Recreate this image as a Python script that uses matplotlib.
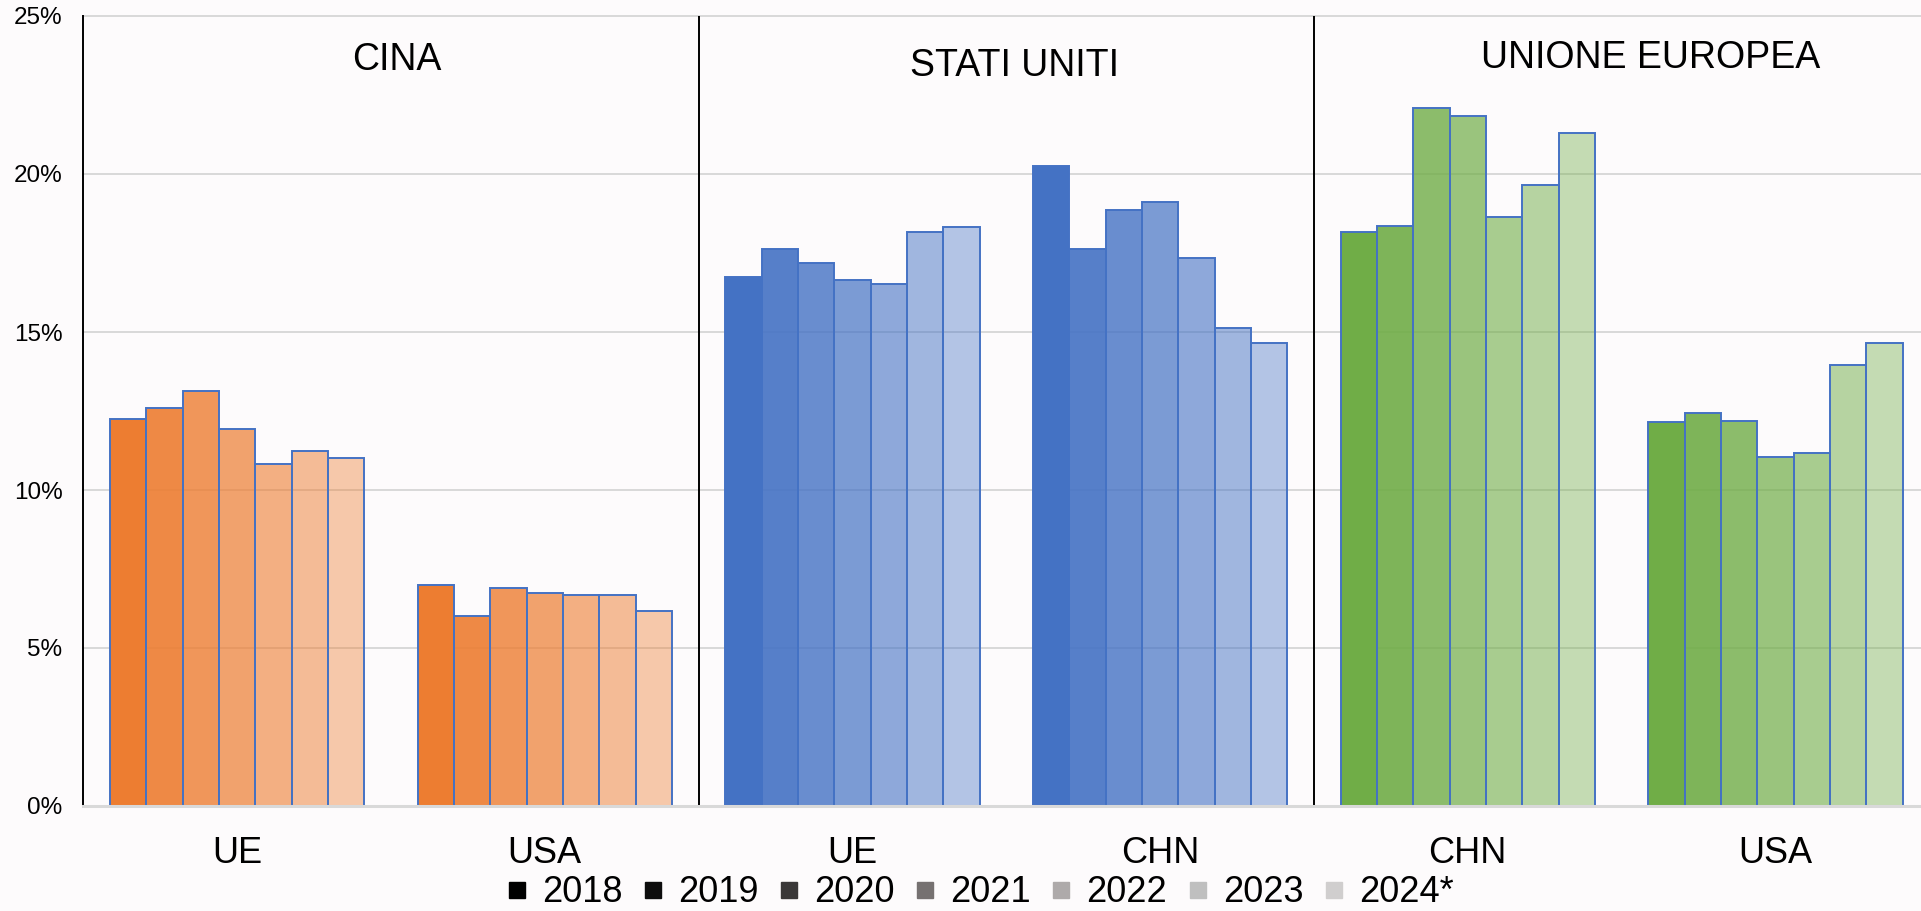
import matplotlib
matplotlib.use("Agg")
import matplotlib.pyplot as plt
import numpy as np
from matplotlib.colors import to_rgba
from matplotlib.lines import Line2D

plt.rcParams["font.family"] = ["Liberation Sans", "DejaVu Sans"]

years = ["2018", "2019", "2020", "2021", "2022", "2023", "2024*"]
reporters = ["CINA", "STATI UNITI", "UNIONE EUROPEA"]
partners = ["UE", "USA", "UE", "CHN", "CHN", "USA"]

# quota percentuale per anno, un gruppo per coppia reporter/partner
cina_ue = [12.24, 12.59, 13.14, 11.93, 10.82, 11.22, 11.01]
cina_usa = [6.99, 6.02, 6.89, 6.73, 6.69, 6.67, 6.16]
usa_ue = [16.73, 17.62, 17.19, 16.64, 16.52, 18.17, 18.32]
usa_chn = [20.25, 17.64, 18.86, 19.10, 17.34, 15.13, 14.65]
ue_chn = [18.16, 18.36, 22.09, 21.85, 18.65, 19.65, 21.31]
ue_usa = [12.16, 12.43, 12.19, 11.03, 11.16, 13.95, 14.64]

groups = [cina_ue, cina_usa, usa_ue, usa_chn, ue_chn, ue_usa]

base_colors = ["#ED7D31", "#4472C4", "#70AD47"]
alphas = [1.0, 0.9, 0.8, 0.7, 0.6, 0.5, 0.4]
legend_colors = ["#000000", "#0D0D0D", "#3A3838", "#767171", "#AEAAAA", "#BFBFBF", "#D0CECE"]
bg = "#FDFBFC"

W, H = 1921, 911
fig = plt.figure(figsize=(W / 100, H / 100), dpi=100, facecolor=bg)
ax = fig.add_axes([83.3 / W, 1 - 806 / H, 1846 / W, 790 / H], facecolor=bg)

n = len(years)
width = 0.827 / n
x = np.arange(len(groups))
for j in range(n):
    vals = [g[j] for g in groups]
    faces = [to_rgba(base_colors[i // 2], alphas[j]) for i in range(len(groups))]
    ax.bar(x + (j - (n - 1) / 2) * width, vals, width, color=faces,
           edgecolor="#4472C4", linewidth=1.4, zorder=2)

ax.set_xlim(-0.5, len(groups) - 0.5)
ax.set_ylim(0, 25)
ax.set_yticks(range(0, 26, 5))
ax.set_yticklabels([f"{v}%" for v in range(0, 26, 5)])
ax.set_xticks([])
ax.tick_params(axis="y", length=0, pad=15, labelsize=17.5)
ax.set_axisbelow(True)
ax.yaxis.grid(True, color="#D9D9D9", linewidth=1.4)
for gl in ax.get_ygridlines():
    gl.set_clip_on(False)

for side in ["top", "right", "bottom"]:
    ax.spines[side].set_visible(False)
ax.spines["left"].set_color("black")
ax.spines["left"].set_linewidth(1.4)
ax.axhline(0, color="#D9D9D9", linewidth=2.2, zorder=3, clip_on=False)
for xv in [1.5, 3.5]:
    ax.axvline(xv, color="black", linewidth=1.4, zorder=1)

# titoli dei tre pannelli
title_pos = [(0.519, 23.29), (2.528, 23.1), (4.595, 23.35)]
for name, (tx, ty) in zip(reporters, title_pos):
    ax.text(tx, ty, name, ha="center", va="baseline", fontsize=27)

# etichette dei partner sotto l'asse
for xi, lab in zip(x, partners):
    ax.text(xi, -1.81, lab, ha="center", va="baseline", fontsize=26, clip_on=False)

handles = [Line2D([], [], linestyle="none", marker="s", markersize=12,
                  markerfacecolor=c, markeredgecolor=c) for c in legend_colors]
fig.legend(handles, years, loc="center", bbox_to_anchor=(981 / W, 1 - 893 / H),
           ncol=n, frameon=False, fontsize=26, handlelength=0.45, handletextpad=0.47,
           columnspacing=0.62, borderpad=0)

fig.savefig("out.png", dpi=100, facecolor=bg)
